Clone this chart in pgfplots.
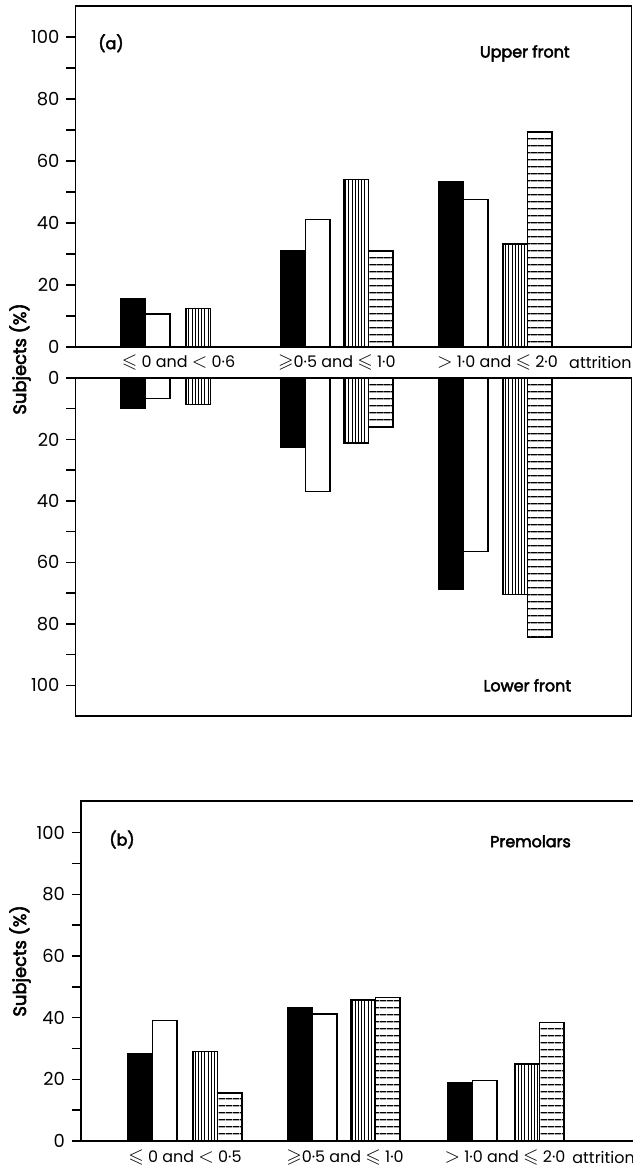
\documentclass[border=0pt]{standalone}
\usepackage{fontspec}
\setmainfont{Poppins}
\newfontfamily\medfont{Poppins}[FakeBold=3]
\usepackage{amssymb}
\usepackage{pgfplots}
\pgfplotsset{compat=1.18}
\usetikzlibrary{patterns.meta}
\newcommand{\LE}{{\fontsize{10}{10}\selectfont$\leqslant$}}
\newcommand{\GE}{{\fontsize{10}{10}\selectfont$\geqslant$}}
\newcommand{\LT}{{\fontsize{10}{10}\selectfont$<$}}
\newcommand{\GT}{{\fontsize{10}{10}\selectfont$>$}}
\pgfplotsset{
  panel/.style={
    scale only axis, anchor=south west,
    axis line style={line width=0.8bp},
    ytick={0,20,...,100}, minor ytick={10,30,...,90},
    ytick pos=left, xtick=\empty,
    tick align=outside, major tick length=4.5bp, minor tick length=4.5bp,
    tick style={line width=0.75bp, black},
    yticklabel style={font=\fontsize{9}{10}\selectfont},
    /pgf/number format/assume math mode=true,
    clip=false,
  },
  barbase/.style={ybar, bar width=24.5, bar shift=0pt, draw=black, line width=0.75bp},
  blk/.style={barbase, fill=black},
  wht/.style={barbase, fill=white},
  vh/.style={barbase, pattern={Lines[angle=90,distance=1.6bp,line width=0.45bp]}},
  hh/.style={barbase, pattern={Lines[angle=0,distance=3.6bp,line width=0.65bp]}},
}
\tikzset{
  catlab/.style={font=\fontsize{8}{9}\selectfont, inner sep=0pt},
  attr/.style={font=\fontsize{8}{9}\selectfont, inner sep=0pt},
  ttl/.style={font=\fontsize{8}{9}\selectfont\medfont, inner sep=0pt},
}
\begin{document}
\begin{tikzpicture}
\useasboundingbox (0,0) rectangle (316.5bp,584.5bp);
% ---------------- panel (a), upper front
\begin{axis}[panel, at={(37.75bp,411bp)}, width=278bp, height=170.5bp,
  xmin=75.5, xmax=631.7, ymin=0, ymax=110]
\addplot[blk] coordinates {(133.25,15.6) (293.25,31.2) (451.25,53.2)};
\addplot[wht] coordinates {(157.75,10.7) (317.75,41.2) (475.75,47.6)};
\addplot[vh]  coordinates {(198.25,12.4) (356.25,54.1) (515.25,33.3)};
\addplot[hh]  coordinates {(380.75,31.0) (539.75,69.4)};
\node[ttl] at (axis cs:111,98) {(a)};
\node[ttl] at (axis cs:525,94.7) {Upper front};
\node[catlab, anchor=center, yshift=-7.6bp] at (axis cs:178.6,0) {\LE\ 0 and \LT\ 0·6};
\node[catlab, anchor=center, yshift=-7.6bp] at (axis cs:337,0) {\GE 0·5 and \LE\ 1·0};
\node[catlab, anchor=center, yshift=-7.6bp] at (axis cs:497.6,0) {\GT\ 1·0 and \LE\ 2·0};
\node[attr, anchor=west, yshift=-7.6bp] at (axis cs:569,0) {attrition};
\end{axis}
% ---------------- panel (a), lower front
\begin{axis}[panel, at={(37.75bp,226.5bp)}, width=278bp, height=169bp,
  xmin=75.5, xmax=631.7, ymin=0, ymax=110, y dir=reverse]
\addplot[blk] coordinates {(133.25,9.7) (293.25,22.4) (451.25,68.6)};
\addplot[wht] coordinates {(157.75,6.7) (317.75,36.9) (475.75,56.4)};
\addplot[vh]  coordinates {(198.25,8.6) (356.25,21.1) (515.25,70.5)};
\addplot[hh]  coordinates {(380.75,15.9) (539.75,84.4)};
\node[ttl] at (axis cs:527.5,100) {Lower front};
\end{axis}
% ---------------- panel (b), premolars
\begin{axis}[panel, at={(40.5bp,14bp)}, width=284.5bp, height=170bp,
  xmin=81, xmax=650, ymin=0, ymax=110.3]
\addplot[blk] coordinates {(140.25,28.2) (300.25,43.1) (460.25,19.0)};
\addplot[wht] coordinates {(164.75,39.1) (324.75,41.2) (484.75,19.6)};
\addplot[vh]  coordinates {(205.25,29.0) (363.25,45.8) (527.25,25.0)};
\addplot[hh]  coordinates {(229.75,15.5) (387.75,46.5) (551.75,38.5)};
\node[ttl] at (axis cs:122,97.8) {(b)};
\node[ttl] at (axis cs:530.5,97.2) {Premolars};
\node[catlab, anchor=center, yshift=-8.5bp] at (axis cs:185,0) {\LE\ 0 and \LT\ 0·5};
\node[catlab, anchor=center, yshift=-8.5bp] at (axis cs:345,0) {\GE 0·5 and \LE\ 1·0};
\node[catlab, anchor=center, yshift=-8.5bp] at (axis cs:505,0) {\GT\ 1·0 and \LE\ 2·0};
\node[attr, anchor=west, yshift=-8.5bp] at (axis cs:572,0) {attrition};
\end{axis}
% y labels
\node[font=\fontsize{9}{10}\selectfont\medfont, rotate=90] at (10bp,405bp) {Subjects (\%)};
\node[font=\fontsize{9}{10}\selectfont\medfont, rotate=90] at (10bp,104bp) {Subjects (\%)};
\end{tikzpicture}
\end{document}
